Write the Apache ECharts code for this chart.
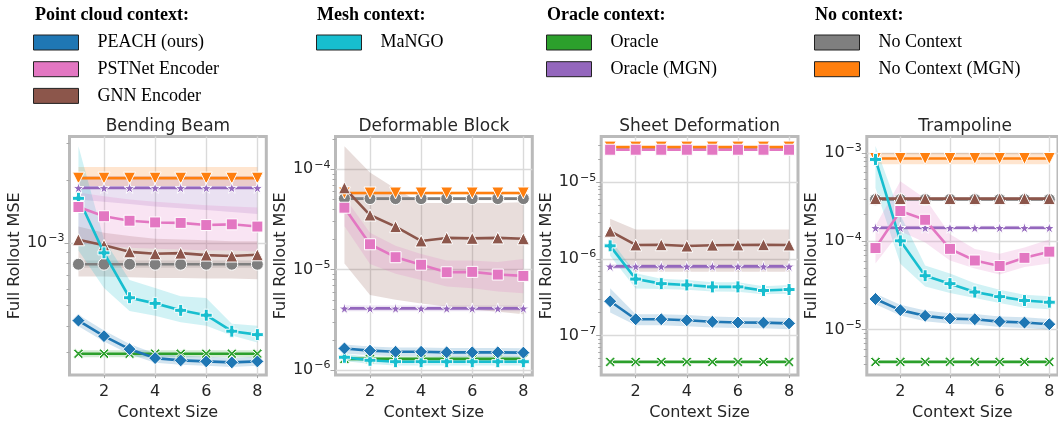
<!DOCTYPE html>
<html>
<head>
<meta charset="utf-8">
<script src="https://cdn.jsdelivr.net/npm/echarts@6/dist/echarts.min.js"></script>
<style>
  html, body { margin: 0; padding: 0; background: #fff; }
  #chart { width: 1058px; height: 426px; }
</style>
</head>
<body>
<div id="chart"></div>
<script>
// Context sizes on the x axis
const contextSizes = [1, 2, 3, 4, 5, 6, 7, 8];
const xTicks = [2, 4, 6, 8];

// ---- Bending Beam: mean full-rollout MSE and confidence band ----
const beamPeach      = [4.24e-4, 3.57e-4, 3.09e-4, 2.80e-4, 2.73e-4, 2.70e-4, 2.67e-4, 2.70e-4];
const beamPeachLo    = [3.98e-4, 3.36e-4, 2.92e-4, 2.66e-4, 2.60e-4, 2.57e-4, 2.54e-4, 2.57e-4];
const beamPeachHi    = [4.52e-4, 3.80e-4, 3.27e-4, 2.95e-4, 2.87e-4, 2.84e-4, 2.81e-4, 2.84e-4];
const beamPstnet     = [1.49e-3, 1.345e-3, 1.28e-3, 1.256e-3, 1.25e-3, 1.22e-3, 1.23e-3, 1.20e-3];
const beamPstnetLo   = [1.00e-3, 9.7e-4, 9.5e-4, 9.4e-4, 9.3e-4, 9.2e-4, 9.2e-4, 9.1e-4];
const beamPstnetHi   = [1.75e-3, 1.68e-3, 1.62e-3, 1.58e-3, 1.55e-3, 1.52e-3, 1.50e-3, 1.48e-3];
const beamGnn        = [1.037e-3, 9.75e-4, 9.07e-4, 8.88e-4, 8.94e-4, 8.75e-4, 8.66e-4, 8.78e-4];
const beamGnnLo      = [6.9e-4, 6.9e-4, 6.85e-4, 6.8e-4, 6.8e-4, 6.75e-4, 6.75e-4, 6.7e-4];
const beamGnnHi      = [1.20e-3, 1.12e-3, 1.08e-3, 1.05e-3, 1.04e-3, 1.03e-3, 1.02e-3, 1.02e-3];
const beamMango      = [1.64e-3, 8.97e-4, 5.46e-4, 5.13e-4, 4.75e-4, 4.50e-4, 3.77e-4, 3.63e-4];
const beamMangoLo    = [9.2e-4, 6.08e-4, 4.72e-4, 4.47e-4, 4.16e-4, 4.01e-4, 3.60e-4, 3.33e-4];
const beamMangoHi    = [2.92e-3, 1.04e-3, 6.65e-4, 6.08e-4, 5.55e-4, 5.45e-4, 4.09e-4, 4.00e-4];
const beamOracle     = [2.94e-4, 2.94e-4, 2.94e-4, 2.94e-4, 2.94e-4, 2.94e-4, 2.94e-4, 2.94e-4];
const beamOracleLo   = [2.83e-4, 2.83e-4, 2.83e-4, 2.83e-4, 2.83e-4, 2.83e-4, 2.83e-4, 2.83e-4];
const beamOracleHi   = [3.05e-4, 3.05e-4, 3.05e-4, 3.05e-4, 3.05e-4, 3.05e-4, 3.05e-4, 3.05e-4];
const beamOracleMgn   = [1.84e-3, 1.84e-3, 1.84e-3, 1.84e-3, 1.84e-3, 1.84e-3, 1.84e-3, 1.84e-3];
const beamOracleMgnLo = [1.62e-3, 1.58e-3, 1.54e-3, 1.50e-3, 1.47e-3, 1.44e-3, 1.41e-3, 1.38e-3];
const beamOracleMgnHi = [2.10e-3, 2.10e-3, 2.10e-3, 2.10e-3, 2.10e-3, 2.10e-3, 2.10e-3, 2.10e-3];
const beamNoCtx      = [7.91e-4, 7.91e-4, 7.91e-4, 7.91e-4, 7.91e-4, 7.91e-4, 7.91e-4, 7.91e-4];
const beamNoCtxLo    = [7.6e-4, 7.6e-4, 7.6e-4, 7.6e-4, 7.6e-4, 7.6e-4, 7.6e-4, 7.6e-4];
const beamNoCtxHi    = [8.25e-4, 8.25e-4, 8.25e-4, 8.25e-4, 8.25e-4, 8.25e-4, 8.25e-4, 8.25e-4];
const beamNoCtxMgn   = [2.05e-3, 2.05e-3, 2.05e-3, 2.05e-3, 2.05e-3, 2.05e-3, 2.05e-3, 2.05e-3];
const beamNoCtxMgnLo = [1.88e-3, 1.88e-3, 1.88e-3, 1.88e-3, 1.88e-3, 1.88e-3, 1.88e-3, 1.88e-3];
const beamNoCtxMgnHi = [2.32e-3, 2.32e-3, 2.32e-3, 2.32e-3, 2.32e-3, 2.32e-3, 2.32e-3, 2.32e-3];

// ---- Deformable Block ----
const blockPeach      = [1.64e-6, 1.56e-6, 1.52e-6, 1.52e-6, 1.50e-6, 1.50e-6, 1.50e-6, 1.49e-6];
const blockPeachLo    = [1.46e-6, 1.40e-6, 1.37e-6, 1.37e-6, 1.35e-6, 1.35e-6, 1.35e-6, 1.34e-6];
const blockPeachHi    = [1.80e-6, 1.72e-6, 1.68e-6, 1.68e-6, 1.66e-6, 1.66e-6, 1.66e-6, 1.65e-6];
const blockPstnet     = [4.14e-5, 1.79e-5, 1.33e-5, 1.12e-5, 9.42e-6, 9.50e-6, 8.93e-6, 8.67e-6];
const blockPstnetLo   = [2.70e-5, 1.14e-5, 9.1e-6, 7.87e-6, 6.78e-6, 6.53e-6, 6.05e-6, 5.83e-6];
const blockPstnetHi   = [5.30e-5, 2.33e-5, 1.73e-5, 1.43e-5, 1.23e-5, 1.23e-5, 1.19e-5, 1.28e-5];
const blockGnn        = [6.53e-5, 3.50e-5, 2.68e-5, 1.93e-5, 2.07e-5, 2.05e-5, 2.07e-5, 2.03e-5];
const blockGnnLo      = [1.15e-5, 5.6e-6, 5.0e-6, 4.6e-6, 4.3e-6, 4.0e-6, 3.8e-6, 3.6e-6];
const blockGnnHi      = [1.70e-4, 9.3e-5, 6.4e-5, 4.6e-5, 4.6e-5, 4.6e-5, 4.6e-5, 4.7e-5];
const blockMango      = [1.34e-6, 1.25e-6, 1.21e-6, 1.21e-6, 1.21e-6, 1.21e-6, 1.21e-6, 1.21e-6];
const blockMangoLo    = [1.23e-6, 1.15e-6, 1.11e-6, 1.11e-6, 1.11e-6, 1.11e-6, 1.11e-6, 1.11e-6];
const blockMangoHi    = [1.45e-6, 1.35e-6, 1.31e-6, 1.31e-6, 1.31e-6, 1.31e-6, 1.31e-6, 1.31e-6];
const blockOracle     = [1.29e-6, 1.29e-6, 1.29e-6, 1.29e-6, 1.29e-6, 1.29e-6, 1.29e-6, 1.29e-6];
const blockOracleLo   = [1.22e-6, 1.22e-6, 1.22e-6, 1.22e-6, 1.22e-6, 1.22e-6, 1.22e-6, 1.22e-6];
const blockOracleHi   = [1.36e-6, 1.36e-6, 1.36e-6, 1.36e-6, 1.36e-6, 1.36e-6, 1.36e-6, 1.36e-6];
const blockOracleMgn   = [4.11e-6, 4.11e-6, 4.11e-6, 4.11e-6, 4.11e-6, 4.11e-6, 4.11e-6, 4.11e-6];
const blockOracleMgnLo = [3.85e-6, 3.85e-6, 3.85e-6, 3.85e-6, 3.85e-6, 3.85e-6, 3.85e-6, 3.85e-6];
const blockOracleMgnHi = [4.40e-6, 4.40e-6, 4.40e-6, 4.40e-6, 4.40e-6, 4.40e-6, 4.40e-6, 4.40e-6];
const blockNoCtx      = [5.10e-5, 5.10e-5, 5.10e-5, 5.10e-5, 5.10e-5, 5.10e-5, 5.10e-5, 5.10e-5];
const blockNoCtxLo    = [4.92e-5, 4.92e-5, 4.92e-5, 4.92e-5, 4.92e-5, 4.92e-5, 4.92e-5, 4.92e-5];
const blockNoCtxHi    = [5.28e-5, 5.28e-5, 5.28e-5, 5.28e-5, 5.28e-5, 5.28e-5, 5.28e-5, 5.28e-5];
const blockNoCtxMgn   = [5.80e-5, 5.80e-5, 5.80e-5, 5.80e-5, 5.80e-5, 5.80e-5, 5.80e-5, 5.80e-5];
const blockNoCtxMgnLo = [5.62e-5, 5.62e-5, 5.62e-5, 5.62e-5, 5.62e-5, 5.62e-5, 5.62e-5, 5.62e-5];
const blockNoCtxMgnHi = [5.98e-5, 5.98e-5, 5.98e-5, 5.98e-5, 5.98e-5, 5.98e-5, 5.98e-5, 5.98e-5];

// ---- Sheet Deformation ----
const sheetPeach      = [2.80e-7, 1.63e-7, 1.63e-7, 1.58e-7, 1.51e-7, 1.48e-7, 1.47e-7, 1.44e-7];
const sheetPeachLo    = [2.00e-7, 1.36e-7, 1.36e-7, 1.32e-7, 1.27e-7, 1.25e-7, 1.24e-7, 1.21e-7];
const sheetPeachHi    = [4.14e-7, 1.90e-7, 1.90e-7, 1.85e-7, 1.77e-7, 1.73e-7, 1.72e-7, 1.69e-7];
const sheetPstnet     = [2.66e-5, 2.66e-5, 2.66e-5, 2.66e-5, 2.66e-5, 2.66e-5, 2.66e-5, 2.66e-5];
const sheetPstnetLo   = [2.58e-5, 2.58e-5, 2.58e-5, 2.58e-5, 2.58e-5, 2.58e-5, 2.58e-5, 2.58e-5];
const sheetPstnetHi   = [2.74e-5, 2.74e-5, 2.74e-5, 2.74e-5, 2.74e-5, 2.74e-5, 2.74e-5, 2.74e-5];
const sheetGnn        = [2.30e-6, 1.52e-6, 1.53e-6, 1.47e-6, 1.51e-6, 1.52e-6, 1.53e-6, 1.52e-6];
const sheetGnnLo      = [1.41e-6, 6.8e-7, 6.8e-7, 6.8e-7, 6.8e-7, 6.8e-7, 6.8e-7, 6.8e-7];
const sheetGnnHi      = [3.34e-6, 2.42e-6, 2.42e-6, 2.42e-6, 2.42e-6, 2.42e-6, 2.42e-6, 2.42e-6];
const sheetMango      = [1.48e-6, 5.45e-7, 4.75e-7, 4.57e-7, 4.31e-7, 4.31e-7, 3.87e-7, 3.98e-7];
const sheetMangoLo    = [1.10e-6, 4.10e-7, 4.05e-7, 3.95e-7, 3.75e-7, 3.72e-7, 3.45e-7, 3.50e-7];
const sheetMangoHi    = [1.82e-6, 6.50e-7, 5.50e-7, 5.30e-7, 4.95e-7, 4.95e-7, 4.40e-7, 4.55e-7];
const sheetOracle     = [4.52e-8, 4.52e-8, 4.52e-8, 4.52e-8, 4.52e-8, 4.52e-8, 4.52e-8, 4.52e-8];
const sheetOracleLo   = [4.38e-8, 4.38e-8, 4.38e-8, 4.38e-8, 4.38e-8, 4.38e-8, 4.38e-8, 4.38e-8];
const sheetOracleHi   = [4.66e-8, 4.66e-8, 4.66e-8, 4.66e-8, 4.66e-8, 4.66e-8, 4.66e-8, 4.66e-8];
const sheetOracleMgn   = [7.98e-7, 7.98e-7, 7.98e-7, 7.98e-7, 7.98e-7, 7.98e-7, 7.98e-7, 7.98e-7];
const sheetOracleMgnLo = [7.4e-7, 7.4e-7, 7.4e-7, 7.4e-7, 7.4e-7, 7.4e-7, 7.4e-7, 7.4e-7];
const sheetOracleMgnHi = [8.6e-7, 8.6e-7, 8.6e-7, 8.6e-7, 8.6e-7, 8.6e-7, 8.6e-7, 8.6e-7];
const sheetNoCtx      = [2.68e-5, 2.68e-5, 2.68e-5, 2.68e-5, 2.68e-5, 2.68e-5, 2.68e-5, 2.68e-5];
const sheetNoCtxLo    = [2.60e-5, 2.60e-5, 2.60e-5, 2.60e-5, 2.60e-5, 2.60e-5, 2.60e-5, 2.60e-5];
const sheetNoCtxHi    = [2.76e-5, 2.76e-5, 2.76e-5, 2.76e-5, 2.76e-5, 2.76e-5, 2.76e-5, 2.76e-5];
const sheetNoCtxMgn   = [2.88e-5, 2.88e-5, 2.88e-5, 2.88e-5, 2.88e-5, 2.88e-5, 2.88e-5, 2.88e-5];
const sheetNoCtxMgnLo = [2.80e-5, 2.80e-5, 2.80e-5, 2.80e-5, 2.80e-5, 2.80e-5, 2.80e-5, 2.80e-5];
const sheetNoCtxMgnHi = [2.96e-5, 2.96e-5, 2.96e-5, 2.96e-5, 2.96e-5, 2.96e-5, 2.96e-5, 2.96e-5];

// ---- Trampoline ----
const trampPeach      = [2.22e-5, 1.66e-5, 1.43e-5, 1.33e-5, 1.31e-5, 1.23e-5, 1.20e-5, 1.15e-5];
const trampPeachLo    = [1.93e-5, 1.44e-5, 1.24e-5, 1.16e-5, 1.14e-5, 1.07e-5, 1.04e-5, 1.00e-5];
const trampPeachHi    = [2.55e-5, 1.91e-5, 1.64e-5, 1.53e-5, 1.50e-5, 1.41e-5, 1.38e-5, 1.32e-5];
const trampPstnet     = [8.37e-5, 2.20e-4, 1.75e-4, 8.20e-5, 6.05e-5, 5.25e-5, 6.49e-5, 7.62e-5];
const trampPstnetLo   = [5.6e-5, 1.30e-4, 9.7e-5, 6.07e-5, 4.9e-5, 4.2e-5, 5.1e-5, 5.6e-5];
const trampPstnetHi   = [1.5e-4, 4.78e-4, 3.05e-4, 1.2e-4, 8.16e-5, 7.2e-5, 8.5e-5, 1.05e-4];
const trampGnn        = [3.04e-4, 3.04e-4, 3.04e-4, 3.04e-4, 3.04e-4, 3.04e-4, 3.04e-4, 3.04e-4];
const trampGnnLo      = [2.90e-4, 2.90e-4, 2.90e-4, 2.90e-4, 2.90e-4, 2.90e-4, 2.90e-4, 2.90e-4];
const trampGnnHi      = [3.18e-4, 3.18e-4, 3.18e-4, 3.18e-4, 3.18e-4, 3.18e-4, 3.18e-4, 3.18e-4];
const trampMango      = [8.44e-4, 1.01e-4, 4.07e-5, 3.31e-5, 2.66e-5, 2.36e-5, 2.13e-5, 2.04e-5];
const trampMangoLo    = [4.0e-4, 5.56e-5, 3.07e-5, 2.59e-5, 2.28e-5, 2.00e-5, 1.77e-5, 1.70e-5];
const trampMangoHi    = [1.2e-3, 1.99e-4, 5.3e-5, 4.31e-5, 3.34e-5, 2.82e-5, 2.48e-5, 2.38e-5];
const trampOracle     = [4.31e-6, 4.31e-6, 4.31e-6, 4.31e-6, 4.31e-6, 4.31e-6, 4.31e-6, 4.31e-6];
const trampOracleLo   = [4.18e-6, 4.18e-6, 4.18e-6, 4.18e-6, 4.18e-6, 4.18e-6, 4.18e-6, 4.18e-6];
const trampOracleHi   = [4.44e-6, 4.44e-6, 4.44e-6, 4.44e-6, 4.44e-6, 4.44e-6, 4.44e-6, 4.44e-6];
const trampOracleMgn   = [1.42e-4, 1.42e-4, 1.42e-4, 1.42e-4, 1.42e-4, 1.42e-4, 1.42e-4, 1.42e-4];
const trampOracleMgnLo = [1.34e-4, 1.34e-4, 1.34e-4, 1.34e-4, 1.34e-4, 1.34e-4, 1.34e-4, 1.34e-4];
const trampOracleMgnHi = [1.50e-4, 1.50e-4, 1.50e-4, 1.50e-4, 1.50e-4, 1.50e-4, 1.50e-4, 1.50e-4];
const trampNoCtx      = [2.97e-4, 2.97e-4, 2.97e-4, 2.97e-4, 2.97e-4, 2.97e-4, 2.97e-4, 2.97e-4];
const trampNoCtxLo    = [2.86e-4, 2.86e-4, 2.86e-4, 2.86e-4, 2.86e-4, 2.86e-4, 2.86e-4, 2.86e-4];
const trampNoCtxHi    = [3.08e-4, 3.08e-4, 3.08e-4, 3.08e-4, 3.08e-4, 3.08e-4, 3.08e-4, 3.08e-4];
const trampNoCtxMgn   = [8.65e-4, 8.65e-4, 8.65e-4, 8.65e-4, 8.65e-4, 8.65e-4, 8.65e-4, 8.65e-4];
const trampNoCtxMgnLo = [7.45e-4, 7.45e-4, 7.45e-4, 7.45e-4, 7.45e-4, 7.45e-4, 7.45e-4, 7.45e-4];
const trampNoCtxMgnHi = [1.00e-3, 1.00e-3, 1.00e-3, 1.00e-3, 1.00e-3, 1.00e-3, 1.00e-3, 1.00e-3];

// ---- Panel titles and log-axis ticks ----
const panelTitles = ['Bending Beam', 'Deformable Block', 'Sheet Deformation', 'Trampoline'];
const beamMajor  = [1e-3];
const beamMinor  = [3e-4, 4e-4, 5e-4, 6e-4, 7e-4, 8e-4, 9e-4, 2e-3, 3e-3];
const blockMajor = [1e-6, 1e-5, 1e-4];
const blockMinor = [2e-6, 3e-6, 4e-6, 5e-6, 6e-6, 7e-6, 8e-6, 9e-6, 2e-5, 3e-5, 4e-5, 5e-5, 6e-5, 7e-5, 8e-5, 9e-5, 2e-4];
const sheetMajor = [1e-7, 1e-6, 1e-5];
const sheetMinor = [4e-8, 5e-8, 6e-8, 7e-8, 8e-8, 9e-8, 2e-7, 3e-7, 4e-7, 5e-7, 6e-7, 7e-7, 8e-7, 9e-7, 2e-6, 3e-6, 4e-6, 5e-6, 6e-6, 7e-6, 8e-6, 9e-6, 2e-5, 3e-5];
const trampMajor = [1e-5, 1e-4, 1e-3];
const trampMinor = [4e-6, 5e-6, 6e-6, 7e-6, 8e-6, 9e-6, 2e-5, 3e-5, 4e-5, 5e-5, 6e-5, 7e-5, 8e-5, 9e-5, 2e-4, 3e-4, 4e-4, 5e-4, 6e-4, 7e-4, 8e-4, 9e-4];

// y-axis extents per panel
const yMins = [2.32e-4, 8.9e-7, 3.04e-8, 3.05e-6];
const yMaxs = [3.25e-3, 2.12e-4, 3.96e-5, 1.535e-3];

// ---- Method styling (legend name, colour, marker) ----
const PLUS = 'path://M-1,-3H1V-1H3V1H1V3H-1V1H-3V-1H-1Z';
const CROSS = 'path://M-2,-3L0,-1L2,-3L3,-2L1,0L3,2L2,3L0,1L-2,3L-3,2L-1,0L-3,-2Z';
const STAR = 'path://M0,-10L2.23,-3.07L9.51,-3.09L3.61,1.17L5.88,8.09L0,3.8L-5.88,8.09L-3.61,1.17L-9.51,-3.09L-2.23,-3.07Z';

// drawing order: later entries sit on top
const methods = [
  { key: 'NoCtx',     name: 'No Context',       color: '#7f7f7f', symbol: 'circle',   size: 12, rotate: 0 },
  { key: 'NoCtxMgn',  name: 'No Context (MGN)', color: '#ff7f0e', symbol: 'triangle', size: 12, rotate: 180 },
  { key: 'OracleMgn', name: 'Oracle (MGN)',     color: '#9467bd', symbol: STAR,       size: 11, rotate: 0 },
  { key: 'Oracle',    name: 'Oracle',           color: '#2ca02c', symbol: CROSS,      size: 10, rotate: 0 },
  { key: 'Gnn',       name: 'GNN Encoder',      color: '#8c564b', symbol: 'triangle', size: 12, rotate: 0 },
  { key: 'Mango',     name: 'MaNGO',            color: '#17becf', symbol: PLUS,       size: 12, rotate: 0 },
  { key: 'Pstnet',    name: 'PSTNet Encoder',   color: '#e377c2', symbol: 'rect',     size: 11, rotate: 0 },
  { key: 'Peach',     name: 'PEACH (ours)',     color: '#1f77b4', symbol: 'diamond',  size: 13, rotate: 0 }
];

// per-panel lookup tables built from the arrays above
const panelRuns = [
  { Peach: [beamPeach, beamPeachLo, beamPeachHi], Pstnet: [beamPstnet, beamPstnetLo, beamPstnetHi],
    Gnn: [beamGnn, beamGnnLo, beamGnnHi], Mango: [beamMango, beamMangoLo, beamMangoHi],
    Oracle: [beamOracle, beamOracleLo, beamOracleHi], OracleMgn: [beamOracleMgn, beamOracleMgnLo, beamOracleMgnHi],
    NoCtx: [beamNoCtx, beamNoCtxLo, beamNoCtxHi], NoCtxMgn: [beamNoCtxMgn, beamNoCtxMgnLo, beamNoCtxMgnHi] },
  { Peach: [blockPeach, blockPeachLo, blockPeachHi], Pstnet: [blockPstnet, blockPstnetLo, blockPstnetHi],
    Gnn: [blockGnn, blockGnnLo, blockGnnHi], Mango: [blockMango, blockMangoLo, blockMangoHi],
    Oracle: [blockOracle, blockOracleLo, blockOracleHi], OracleMgn: [blockOracleMgn, blockOracleMgnLo, blockOracleMgnHi],
    NoCtx: [blockNoCtx, blockNoCtxLo, blockNoCtxHi], NoCtxMgn: [blockNoCtxMgn, blockNoCtxMgnLo, blockNoCtxMgnHi] },
  { Peach: [sheetPeach, sheetPeachLo, sheetPeachHi], Pstnet: [sheetPstnet, sheetPstnetLo, sheetPstnetHi],
    Gnn: [sheetGnn, sheetGnnLo, sheetGnnHi], Mango: [sheetMango, sheetMangoLo, sheetMangoHi],
    Oracle: [sheetOracle, sheetOracleLo, sheetOracleHi], OracleMgn: [sheetOracleMgn, sheetOracleMgnLo, sheetOracleMgnHi],
    NoCtx: [sheetNoCtx, sheetNoCtxLo, sheetNoCtxHi], NoCtxMgn: [sheetNoCtxMgn, sheetNoCtxMgnLo, sheetNoCtxMgnHi] },
  { Peach: [trampPeach, trampPeachLo, trampPeachHi], Pstnet: [trampPstnet, trampPstnetLo, trampPstnetHi],
    Gnn: [trampGnn, trampGnnLo, trampGnnHi], Mango: [trampMango, trampMangoLo, trampMangoHi],
    Oracle: [trampOracle, trampOracleLo, trampOracleHi], OracleMgn: [trampOracleMgn, trampOracleMgnLo, trampOracleMgnHi],
    NoCtx: [trampNoCtx, trampNoCtxLo, trampNoCtxHi], NoCtxMgn: [trampNoCtxMgn, trampNoCtxMgnLo, trampNoCtxMgnHi] }
];
const panelMajor = [beamMajor, blockMajor, sheetMajor, trampMajor];
const panelMinor = [beamMinor, blockMinor, sheetMinor, trampMinor];

// ---- Layout ----
const gridLefts = [69.5, 335.5, 601.2, 866.8];
const gridTop = 136.5, gridW = 196.8, gridH = 244;
const axisFont = 'DejaVu Sans';
const textDark = '#262626';
const frameColor = '#bababa';
const gridColor = '#dadada';

function rgba(hex, a) {
  const n = parseInt(hex.slice(1), 16);
  return 'rgba(' + (n >> 16 & 255) + ',' + (n >> 8 & 255) + ',' + (n & 255) + ',' + a + ')';
}

const grids = [], xAxes = [], yAxes = [], titles = [], bandSeries = [], lineSeries = [];

gridLefts.forEach((left, p) => {
  grids.push({ left: left, top: gridTop, width: gridW, height: gridH, show: true,
               borderColor: frameColor, borderWidth: 3, backgroundColor: '#fff', containLabel: false });

  xAxes.push({
    type: 'value', gridIndex: p, min: 0.65, max: 8.35,
    axisLine: { show: false },
    axisTick: { show: true, customValues: xTicks, length: 3, lineStyle: { color: '#a8a8a8' } },
    axisLabel: { customValues: xTicks, fontSize: 16, fontFamily: axisFont, color: textDark, margin: 9 },
    splitLine: { show: true, lineStyle: { color: gridColor, width: 1.4 } },
    name: 'Context Size', nameLocation: 'middle', nameGap: 27,
    nameTextStyle: { fontSize: 16, fontFamily: axisFont, color: textDark }
  });

  // major decades: labels + gridlines
  yAxes.push({
    type: 'log', logBase: 10, gridIndex: p, position: 'left', min: yMins[p], max: yMaxs[p],
    axisLine: { show: false },
    axisTick: { show: true, customValues: panelMajor[p], length: 5, lineStyle: { color: '#a8a8a8' } },
    axisLabel: {
      customValues: panelMajor[p], margin: 5, color: textDark,
      formatter: v => '{b|10}{s|\u2212' + (-Math.round(Math.log10(v))) + '}',
      rich: {
        b: { fontSize: 16, fontFamily: axisFont, color: textDark, verticalAlign: 'middle', lineHeight: 16 },
        s: { fontSize: 11, fontFamily: axisFont, color: textDark, verticalAlign: 'middle', lineHeight: 11, padding: [0, 0, 9, 1] }
      }
    },
    splitLine: { show: true, lineStyle: { color: gridColor, width: 1.4 } },
    name: 'Full Rollout MSE', nameLocation: 'middle', nameGap: 46, nameRotate: 90,
    nameTextStyle: { fontSize: 16, fontFamily: axisFont, color: textDark }
  });
  // minor ticks between decades
  yAxes.push({
    type: 'log', logBase: 10, gridIndex: p, position: 'left', min: yMins[p], max: yMaxs[p],
    axisLine: { show: false },
    axisTick: { show: true, customValues: panelMinor[p], length: 3, lineStyle: { color: '#a8a8a8' } },
    axisLabel: { show: false },
    splitLine: { show: false }
  });

  titles.push({
    text: panelTitles[p], left: left + gridW / 2, top: 118, textAlign: 'center', padding: 0,
    textStyle: { fontSize: 17, fontWeight: 'normal', fontFamily: axisFont, color: textDark }
  });

  methods.forEach((m, order) => {
    const [mean, lo, hi] = panelRuns[p][m.key];
    // confidence band as a filled polygon between lo and hi
    bandSeries.push({
      type: 'custom', name: m.name, xAxisIndex: p, yAxisIndex: 2 * p, z: 1, silent: true,
      itemStyle: { color: m.color },
      data: [[contextSizes[0], mean[0]]],
      renderItem: (params, api) => {
        const pts = [];
        for (let i = 0; i < contextSizes.length; i++) pts.push(api.coord([contextSizes[i], hi[i]]));
        for (let i = contextSizes.length - 1; i >= 0; i--) pts.push(api.coord([contextSizes[i], lo[i]]));
        return { type: 'polygon', shape: { points: pts }, style: { fill: rgba(m.color, 0.2) } };
      }
    });
    lineSeries.push({
      type: 'line', name: m.name, xAxisIndex: p, yAxisIndex: 2 * p, z: 3 + order,
      data: contextSizes.map((x, i) => [x, mean[i]]),
      symbol: m.symbol, symbolSize: m.size, symbolRotate: m.rotate, showAllSymbol: true,
      lineStyle: { color: m.color, width: 2.6 },
      itemStyle: { color: m.color, borderColor: '#fff', borderWidth: 1 },
      emphasis: { disabled: true }, silent: true
    });
  });
});

// ---- Legend groups ----
const legendGroups = [
  { title: 'Point cloud context:', x: 35, names: ['PEACH (ours)', 'PSTNet Encoder', 'GNN Encoder'], left: 33 },
  { title: 'Mesh context:', x: 317, names: ['MaNGO'], left: 316 },
  { title: 'Oracle context:', x: 547, names: ['Oracle', 'Oracle (MGN)'], left: 546 },
  { title: 'No context:', x: 815, names: ['No Context', 'No Context (MGN)'], left: 814 }
];
const legends = legendGroups.map(g => ({
  data: g.names, left: g.left, top: 33.5, orient: 'vertical', padding: 0,
  itemWidth: 45, itemHeight: 15, itemGap: 8.7, icon: 'rect', selectedMode: false,
  itemStyle: { borderColor: '#222', borderWidth: 1 },
  textStyle: { fontFamily: 'Liberation Serif', fontSize: 18, color: '#000', lineHeight: 18, padding: [0, 0, 0, 14] }
}));
const headers = legendGroups.map(g => ({
  type: 'text', x: g.x, y: 15.5,
  style: { text: g.title, font: 'bold 18px "Liberation Serif"', fill: '#000', verticalAlign: 'middle' }
}));

const chart = echarts.init(document.getElementById('chart'), null, { renderer: 'canvas' });
chart.setOption({
  animation: false,
  backgroundColor: '#fff',
  title: titles,
  legend: legends,
  graphic: headers,
  grid: grids,
  xAxis: xAxes,
  yAxis: yAxes,
  series: bandSeries.concat(lineSeries)
});
</script>
</body>
</html>
